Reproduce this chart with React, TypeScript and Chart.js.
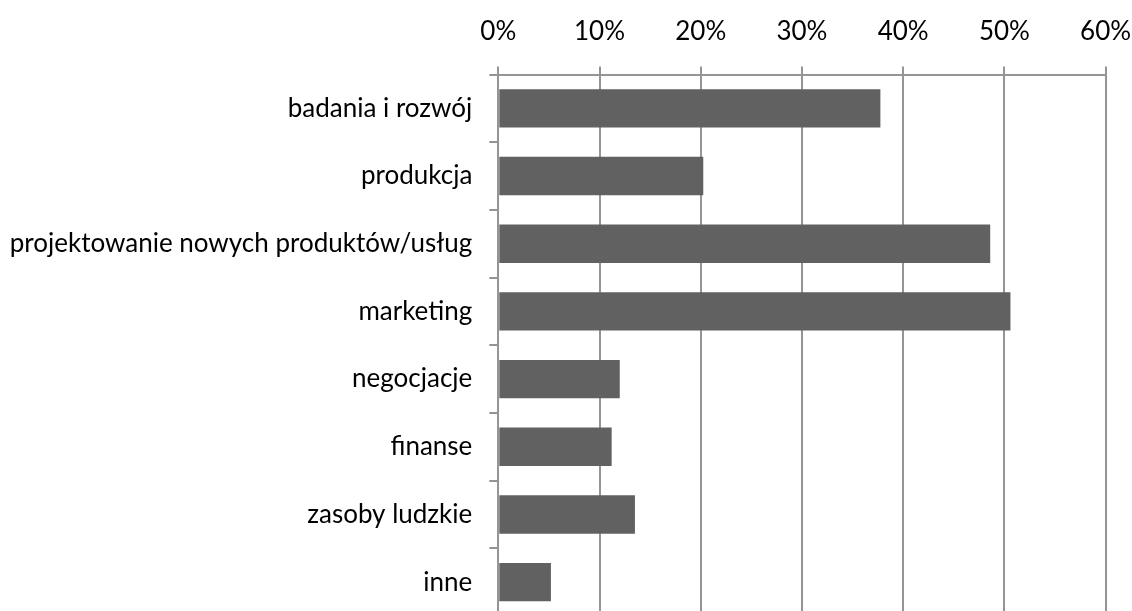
import React, { useEffect, useRef } from "react";
import { Chart, registerables } from "chart.js";

Chart.register(...registerables);

const categories = [
  "badania i rozwój",
  "produkcja",
  "projektowanie nowych produktów/usług",
  "marketing",
  "negocjacje",
  "finanse",
  "zasoby ludzkie",
  "inne",
];
const values = [37.75, 20.25, 48.6, 50.6, 12.0, 11.2, 13.5, 5.2];
const tickMin = 0;
const tickMax = 60;
const tickStep = 10;

const GRID = "#959595";
const BAR = "#616161";
const FONT = { family: "Lato, 'Noto Sans', sans-serif", size: 26 };

export default function App() {
  const ref = useRef<HTMLCanvasElement | null>(null);
  useEffect(() => {
    if (!ref.current) return;
    const chart = new Chart(ref.current, {
      type: "bar",
      data: {
        labels: categories,
        datasets: [
          {
            data: values,
            backgroundColor: BAR,
            borderWidth: 0,
            categoryPercentage: 1,
            barPercentage: 0.567,
          },
        ],
      },
      options: {
        indexAxis: "y",
        animation: false,
        responsive: false,
        maintainAspectRatio: false,
        layout: { padding: { left: 0, right: 26.4, top: 0, bottom: 0 } },
        plugins: { legend: { display: false }, tooltip: { enabled: false } },
        scales: {
          x: {
            position: "top",
            min: tickMin,
            max: tickMax,
            ticks: {
              stepSize: tickStep,
              padding: 19.5,
              color: "#000",
              font: FONT,
              maxRotation: 0,
              callback: (v: any) => v + "%",
            },
            grid: {
              color: GRID,
              lineWidth: 2,
              drawOnChartArea: true,
              drawTicks: true,
              tickLength: 8,
            },
            border: { display: true, color: GRID, width: 2 },
            afterFit: (s: any) => {
              s.height = 74.5;
              s.paddingLeft = 0;
              s.paddingRight = 0;
            },
          },
          y: {
            ticks: { padding: 17, color: "#000", font: FONT },
            grid: {
              color: GRID,
              lineWidth: 2,
              drawOnChartArea: false,
              drawTicks: true,
              tickLength: 9,
              offset: true,
            },
            border: { display: true, color: GRID, width: 2 },
            afterFit: (s: any) => {
              s.width = 498.3;
              s.paddingTop = 0;
              s.paddingBottom = 0;
            },
          },
        },
      },
    });
    return () => chart.destroy();
  }, []);
  return (
    <div
      style={{
        position: "fixed",
        left: 0,
        top: 0,
        width: 1132,
        height: 611,
        overflow: "hidden",
        background: "#fff",
      }}
    >
      <canvas ref={ref} width={1132} height={616} style={{ display: "block" }} />
    </div>
  );
}
